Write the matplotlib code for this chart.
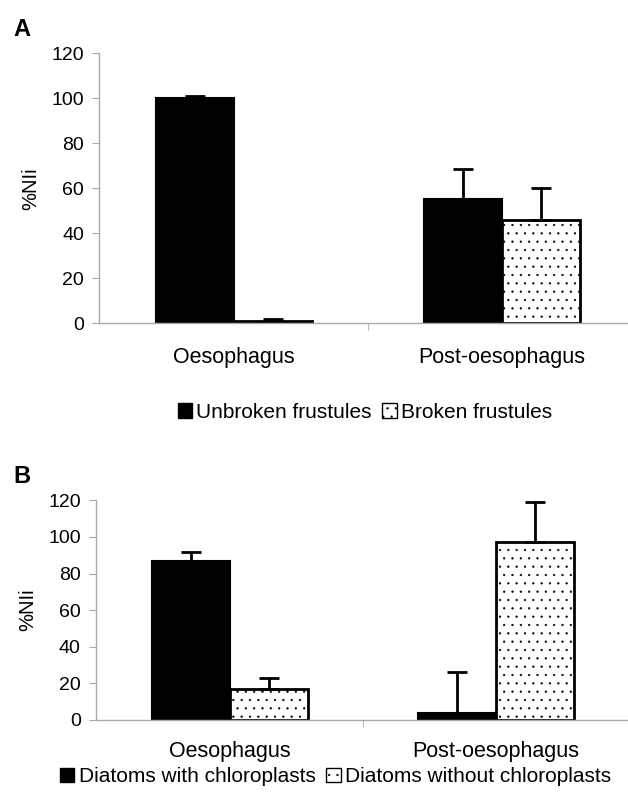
import numpy as np
import matplotlib.pyplot as plt
from matplotlib.patches import Patch

plt.rcParams['font.family'] = ['Liberation Sans', 'DejaVu Sans']
plt.rcParams['hatch.linewidth'] = 0.4

categories = ['Oesophagus', 'Post-oesophagus']

# panel A
unbroken = [100, 55]
unbroken_err = [1, 13.5]
broken = [1, 46]
broken_err = [1, 14]

# panel B
with_chl = [87, 4]
with_chl_err = [5, 22]
without_chl = [17, 97]
without_chl_err = [6, 22]

yticks = [0, 20, 40, 60, 80, 100, 120]


def panel(ax, s1, e1, s2, e2, xlim, xpad):
    x = np.arange(len(categories))
    w = 0.292
    ax.bar(x - w / 2, s1, w, color='black', edgecolor='black', linewidth=1.5)
    ax.bar(x + w / 2, s2, w, color='white', edgecolor='black', linewidth=2,
           hatch='..')
    for xi, v, e in zip(x - w / 2, s1, e1):
        ax.errorbar(xi, v, yerr=[[0], [e]], color='black', capsize=7,
                    capthick=2, elinewidth=2)
    for xi, v, e in zip(x + w / 2, s2, e2):
        ax.errorbar(xi, v, yerr=[[0], [e]], color='black', capsize=7,
                    capthick=2, elinewidth=2)
    ax.set_xlim(*xlim)
    ax.set_ylim(0, 120)
    ax.set_yticks(yticks)
    ax.set_xticks(x)
    ax.set_xticklabels(categories, fontsize=15.5)
    ax.set_xticks([0.5], minor=True)
    ax.tick_params(axis='x', which='major', length=0, pad=xpad)
    ax.tick_params(axis='x', which='minor', length=5, color='#aaaaaa')
    ax.tick_params(axis='y', labelsize=14, length=5, color='#aaaaaa', pad=6)
    for s in ['top', 'right']:
        ax.spines[s].set_visible(False)
    for s in ['left', 'bottom']:
        ax.spines[s].set_color('#aaaaaa')
        ax.spines[s].set_linewidth(1)
    ax.set_ylabel('%NIi', fontsize=14.5, labelpad=8)


fig = plt.figure(figsize=(6.28, 7.96), dpi=100)
axA = fig.add_axes([0.158, 0.594, 0.842, 0.339])
axB = fig.add_axes([0.153, 0.0955, 0.847, 0.276])

panel(axA, unbroken, unbroken_err, broken, broken_err, (-0.504, 1.47), 17)
panel(axB, with_chl, with_chl_err, without_chl, without_chl_err, (-0.504, 1.496), 15)

fig.text(0.022, 0.963, 'A', fontsize=17, fontweight='bold', va='center')
fig.text(0.022, 0.401, 'B', fontsize=17, fontweight='bold', va='center')

hA = [Patch(facecolor='black', edgecolor='black', label='Unbroken frustules'),
      Patch(facecolor='white', edgecolor='black', hatch='..', label='Broken frustules')]
fig.legend(handles=hA, loc='center', bbox_to_anchor=(0.581, 0.482), ncol=2,
           frameon=False, fontsize=15, handlelength=0.7, handleheight=0.7,
           handletextpad=0.2, columnspacing=0.5)

hB = [Patch(facecolor='black', edgecolor='black', label='Diatoms with chloroplasts'),
      Patch(facecolor='white', edgecolor='black', hatch='..', label='Diatoms without chloroplasts')]
fig.legend(handles=hB, loc='center', bbox_to_anchor=(0.534, 0.024), ncol=2,
           frameon=False, fontsize=15, handlelength=0.7, handleheight=0.7,
           handletextpad=0.2, columnspacing=0.5)

fig.savefig('out.png', dpi=100)
